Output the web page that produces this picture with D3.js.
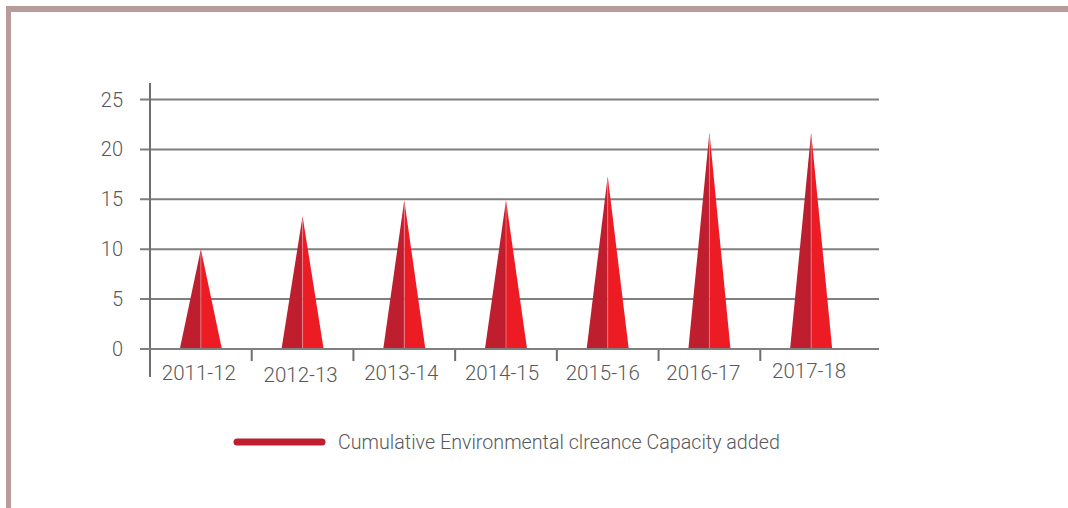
<!DOCTYPE html>
<html>
<head>
<meta charset="utf-8">
<script src="https://cdn.jsdelivr.net/npm/d3@7"></script>
<style>
  html, body { margin: 0; padding: 0; background: #ffffff; }
  svg { display: block; }
  text { font-family: Roboto, "Liberation Sans", sans-serif; }
</style>
</head>
<body>
<svg id="chart" width="1068" height="508"></svg>
<script>
// Financial years on the category axis
const years = ["2011-12", "2012-13", "2013-14", "2014-15", "2015-16", "2016-17", "2017-18"];
// Cumulative environmental clearance capacity added
const capacity = [10, 13.3, 14.9, 14.9, 17.3, 21.7, 21.7];
// Value axis ticks
const yTicks = [0, 5, 10, 15, 20, 25];
const seriesName = "Cumulative Environmental clreance Capacity added";

const svg = d3.select("#chart");

// Frame on the top and left edges
svg.append("rect").attr("x", 6).attr("y", 6).attr("width", 1062).attr("height", 6).attr("fill", "#b89b9b");
svg.append("rect").attr("x", 6).attr("y", 6).attr("width", 5).attr("height", 502).attr("fill", "#b89b9b");

const x = d3.scaleBand().domain(years).range([150, 862]).paddingInner(0).paddingOuter(0);
const y = d3.scaleLinear().domain([0, 25]).range([349, 99.5]);

const axisColor = "#6d6e71";
const textColor = "#58595b";

// Horizontal grid lines with left tick stubs
svg.append("g")
  .selectAll("line")
  .data(yTicks)
  .join("line")
  .attr("x1", 140)
  .attr("x2", 879)
  .attr("y1", d => y(d))
  .attr("y2", d => y(d))
  .attr("stroke", "#7f7f7f")
  .attr("stroke-width", 2);

// Value labels
svg.append("g")
  .selectAll("text")
  .data(yTicks)
  .join("text")
  .attr("x", 123)
  .attr("y", d => y(d))
  .attr("dy", "0.35em")
  .attr("text-anchor", "end")
  .attr("font-size", 20)
  .attr("font-weight", 300)
  .attr("fill", textColor)
  .text(d => d);

// Vertical axis line
svg.append("line")
  .attr("x1", 150).attr("x2", 150)
  .attr("y1", 83).attr("y2", 377)
  .attr("stroke", axisColor)
  .attr("stroke-width", 2);

// Category separators below the baseline
svg.append("g")
  .selectAll("line")
  .data(years.slice(1))
  .join("line")
  .attr("x1", d => x(d))
  .attr("x2", d => x(d))
  .attr("y1", 349)
  .attr("y2", 361)
  .attr("stroke", axisColor)
  .attr("stroke-width", 2);

// Category labels, with small hand-set nudges per label
const labelNudge = [[-2, 0], [-2, 2], [-3, 0], [-4, 0], [-5, 0], [-6, 0], [-2, -2.5]];
svg.append("g")
  .selectAll("text")
  .data(years)
  .join("text")
  .attr("x", (d, i) => x(d) + x.bandwidth() / 2 + labelNudge[i][0])
  .attr("y", (d, i) => 380 + labelNudge[i][1])
  .attr("text-anchor", "middle")
  .attr("font-size", 20.5)
  .attr("font-weight", 300)
  .attr("fill", textColor)
  .text(d => d);

// Spike marks: two-tone triangles per year
const halfBase = x.bandwidth() * 0.207;
const spikes = svg.append("g")
  .selectAll("g")
  .data(years.map((yr, i) => ({ yr, v: capacity[i] })))
  .join("g");

spikes.append("path")
  .attr("d", d => {
    const cx = x(d.yr) + x.bandwidth() / 2;
    return `M${cx - halfBase},${y(0)}L${cx},${y(d.v)}L${cx},${y(0)}Z`;
  })
  .attr("fill", "#be1e2d");

spikes.append("path")
  .attr("d", d => {
    const cx = x(d.yr) + x.bandwidth() / 2;
    return `M${cx},${y(0)}L${cx},${y(d.v)}L${cx + halfBase},${y(0)}Z`;
  })
  .attr("fill", "#ed1c24");

spikes.append("line")
  .attr("x1", d => x(d.yr) + x.bandwidth() / 2)
  .attr("x2", d => x(d.yr) + x.bandwidth() / 2)
  .attr("y1", d => y(d.v) + 4)
  .attr("y2", y(0))
  .attr("stroke", "#f2a0a6")
  .attr("stroke-opacity", 0.6)
  .attr("stroke-width", 1);

// Baseline drawn over the marks
svg.append("line")
  .attr("x1", 140).attr("x2", 879)
  .attr("y1", 349).attr("y2", 349)
  .attr("stroke", "#7f7f7f")
  .attr("stroke-width", 2);

// Legend
const legend = svg.append("g");
legend.append("line")
  .attr("x1", 237).attr("x2", 322)
  .attr("y1", 442).attr("y2", 442)
  .attr("stroke", "#be1e2d")
  .attr("stroke-width", 7)
  .attr("stroke-linecap", "round");
legend.append("text")
  .attr("x", 338)
  .attr("y", 442)
  .attr("dy", "0.35em")
  .attr("font-size", 19.7)
  .attr("font-weight", 300)
  .attr("fill", textColor)
  .text(seriesName);
</script>
</body>
</html>
